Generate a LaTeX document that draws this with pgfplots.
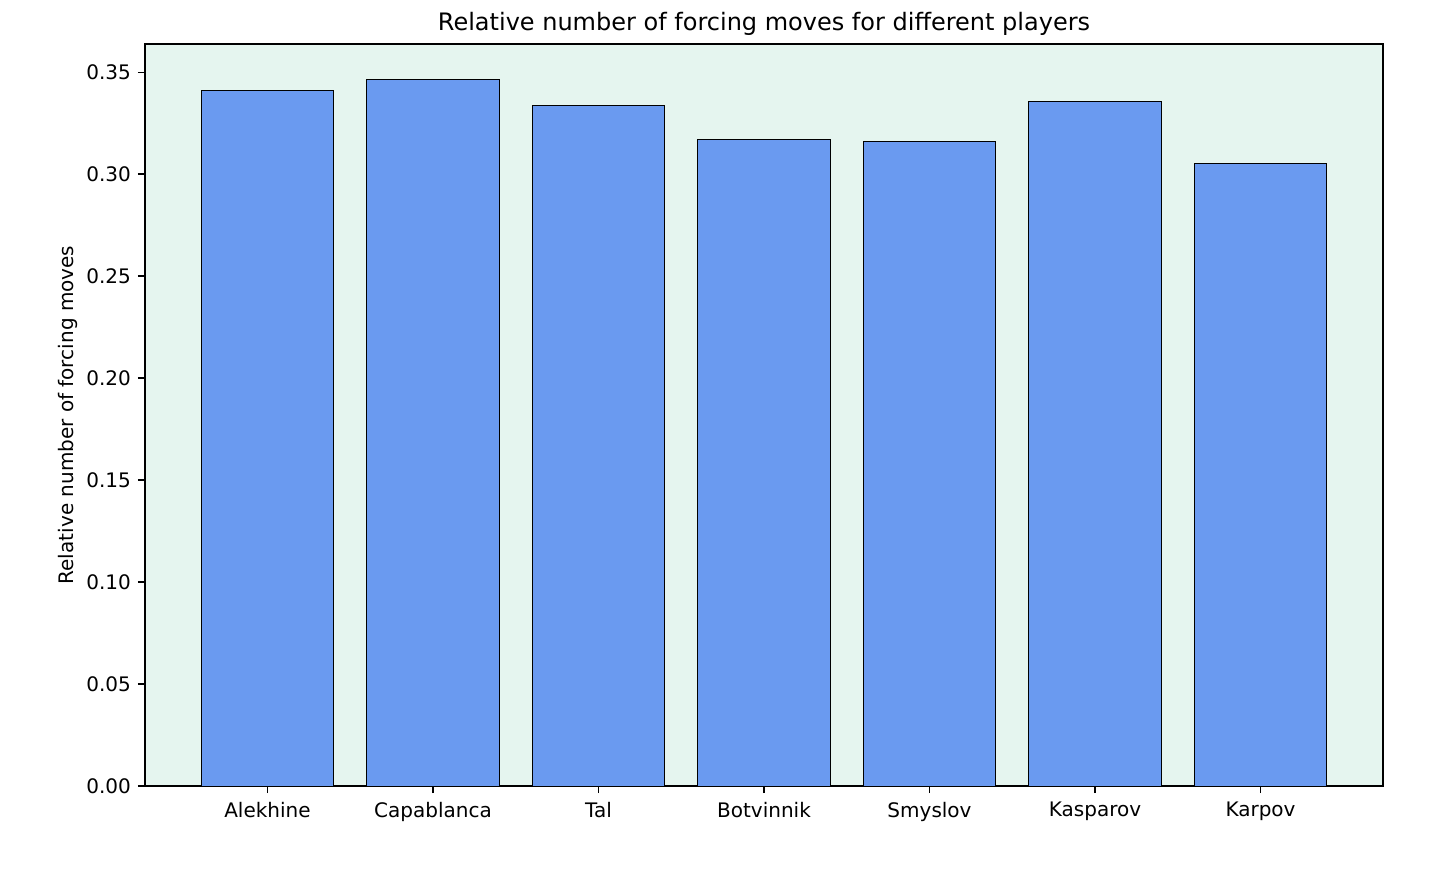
\documentclass[border=0pt]{standalone}
\usepackage{pgfplots}
\pgfplotsset{compat=1.18}
\usepackage{fontspec}
\setmainfont{DejaVu Sans}
\definecolor{barblue}{RGB}{106,154,240}
\definecolor{bgmint}{RGB}{229,245,239}
\begin{document}
\begin{tikzpicture}
\begin{axis}[
  scale only axis,
  width=619pt, height=371pt,
  xmin=-0.74, xmax=6.74,
  ymin=0, ymax=0.3639,
  axis background/.style={fill=bgmint},
  axis line style={line width=0.8pt},
  ybar, bar width=0.8, bar shift=0pt,
  xtick=data,
  xticklabels={Alekhine,Capablanca,Tal,Botvinnik,Smyslov,Kasparov,Karpov},
  ytick={0,0.05,0.10,0.15,0.20,0.25,0.30,0.35},
  yticklabel style={/pgf/number format/.cd,fixed,fixed zerofill,precision=2,assume math mode=true},
  tick label style={font=\fontsize{10}{12}\selectfont},
  xticklabel style={yshift=-1pt},
  tick align=outside, major tick length=3.5pt,
  tick style={black, line width=0.8pt},
  xtick pos=bottom, ytick pos=left,
  title={Relative number of forcing moves for different players},
  title style={font=\fontsize{12}{14}\selectfont, at={(axis description cs:0.5,1)}, anchor=base, yshift=0.5pt, inner sep=0pt},
  ylabel={Relative number of forcing moves},
  ylabel style={font=\fontsize{10}{12}\selectfont, at={(axis description cs:-0.0622,0.5)}, anchor=center},
]
\addplot[fill=barblue, draw=black, line width=0.5pt] coordinates {
(0,0.3412) (1,0.3466) (2,0.3338) (3,0.3170) (4,0.3162) (5,0.3358) (6,0.3054)};
\end{axis}
\pgfresetboundingbox
\path (current axis.south west) ++(-72.5pt,-44pt) rectangle ([shift={(36.5pt,22pt)}]current axis.north east);
\end{tikzpicture}
\end{document}
